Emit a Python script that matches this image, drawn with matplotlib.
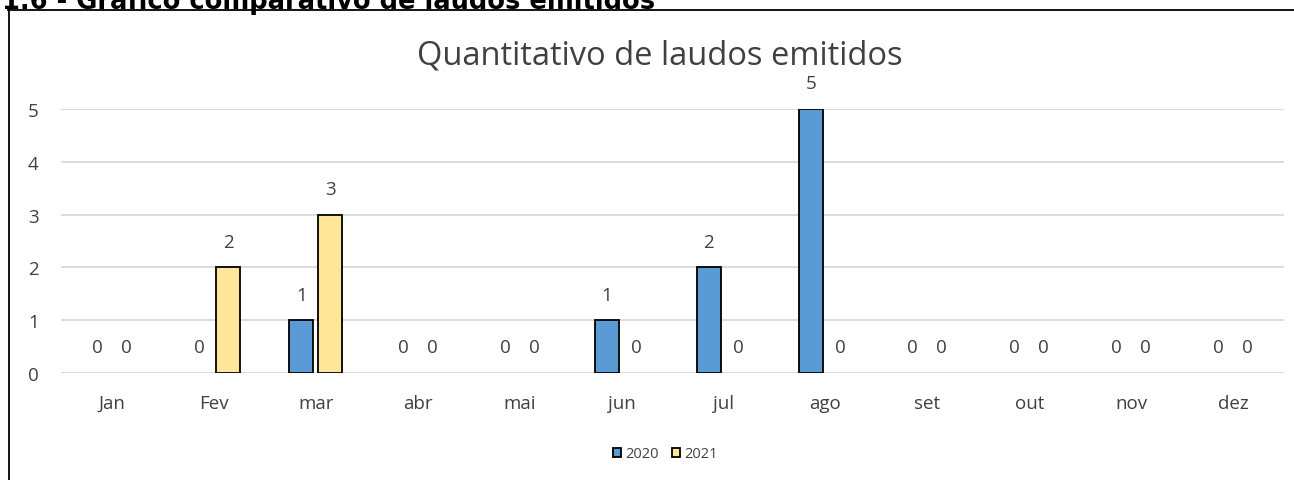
import numpy as np
import matplotlib.pyplot as plt
from matplotlib.lines import Line2D
from matplotlib.patches import Patch

months = ["Jan", "Fev", "mar", "abr", "mai", "jun", "jul", "ago", "set", "out", "nov", "dez"]
vals_2020 = [0, 0, 1, 0, 0, 1, 2, 5, 0, 0, 0, 0]
vals_2021 = [0, 2, 3, 0, 0, 0, 0, 0, 0, 0, 0, 0]
series_names = ["2020", "2021"]

col_2020 = "#5B9BD5"
col_2021 = "#FFE699"
txt_col = "#404040"
grid_col = "#D9D9D9"

plt.rcParams["font.family"] = ["Open Sans", "DejaVu Sans"]

W, H = 1294, 481
fig = plt.figure(figsize=(W / 100, H / 100), dpi=100)

# outer frame of the chart object (only top and left edges visible)
fig.add_artist(Line2D([8 / W, 1], [1 - 11 / H, 1 - 11 / H], color="black", lw=1.3))
fig.add_artist(Line2D([8.5 / W, 8.5 / W], [0, 1 - 11 / H], color="black", lw=1.3))

# section heading, cut off by the top edge as in the source page
fig.text(2 / W, 1 - 9 / H, "1.6 - Gráfico comparativo de laudos emitidos",
         fontsize=18.5, fontweight="bold", color="black", va="baseline", ha="left",
         family="DejaVu Sans")

ax = fig.add_axes([61 / W, 1 - 374 / H, 1223 / W, 264 / H])

x = np.arange(len(months))
bw = 0.235
off = 0.143
lw1 = [1.3 if v > 0 else 0 for v in vals_2020]
lw2 = [1.3 if v > 0 else 0 for v in vals_2021]
b1 = ax.bar(x - off, vals_2020, bw, color=col_2020, edgecolor="black", linewidth=lw1, zorder=3)
b2 = ax.bar(x + off, vals_2021, bw, color=col_2021, edgecolor="black", linewidth=lw2, zorder=3)

for bars, vals in ((b1, vals_2020), (b2, vals_2021)):
    for rect, v in zip(bars, vals):
        ax.annotate(str(v), (rect.get_x() + rect.get_width() / 2, v),
                    xytext=(0, 18.5), textcoords="offset points",
                    ha="center", va="center", fontsize=13.5, color=txt_col)

ax.set_xlim(-0.5, len(months) - 0.5)
ax.set_ylim(0, 5)
ax.set_yticks(range(0, 6))
ax.set_xticks(x)
ax.set_xticklabels(months)
ax.tick_params(axis="both", length=0, labelsize=13.5, labelcolor=txt_col)
ax.tick_params(axis="y", pad=16)
ax.tick_params(axis="x", pad=15)
ax.grid(axis="y", color=grid_col, linewidth=1.3, zorder=0)
ax.set_axisbelow(True)
for s in ax.spines.values():
    s.set_visible(False)

fig.text(660 / W, 1 - 56 / H, "Quantitativo de laudos emitidos",
         fontsize=23.5, color=txt_col, ha="center", va="center")

handles = [Patch(facecolor=col_2020, edgecolor="black", linewidth=1.3),
           Patch(facecolor=col_2021, edgecolor="black", linewidth=1.3)]
fig.legend(handles, series_names, loc="center", bbox_to_anchor=(665 / W, 1 - 455 / H),
           ncol=2, frameon=False, fontsize=10.5, handlelength=0.6, handleheight=0.6,
           handletextpad=0.25, columnspacing=0.9, labelcolor=txt_col)

fig.savefig("out.png", dpi=100)
